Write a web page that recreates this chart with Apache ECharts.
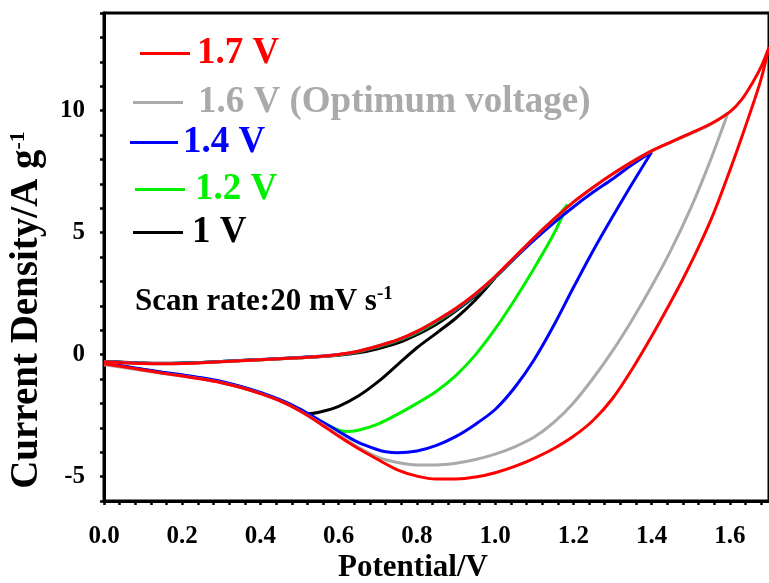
<!DOCTYPE html>
<html>
<head>
<meta charset="utf-8">
<script src="https://cdn.jsdelivr.net/npm/echarts@6/dist/echarts.min.js"></script>
<style>html,body{margin:0;padding:0;background:#fff;}#c{width:769px;height:583px;}</style>
</head>
<body>
<div id="c"></div>
<script>
// ---- data (Potential / V, Current density / A g^-1) ----
const seriesNames = ['1.7 V', '1.6 V (Optimum voltage)', '1.4 V', '1.2 V', '1 V'];
const seriesColors = ['#ff0000', '#aaaaaa', '#0000ff', '#00f000', '#000000'];

const xTickValues = [0, 0.2, 0.4, 0.6, 0.8, 1.0, 1.2, 1.4, 1.6];
const xTickLabels = ['0.0', '0.2', '0.4', '0.6', '0.8', '1.0', '1.2', '1.4', '1.6'];
const yTickValues = [-5, 0, 5, 10];
const yTickLabels = ['-5', '0', '5', '10'];

// 1 V
const v10 = [0,0.05,0.1,0.15,0.2,0.25,0.3,0.35,0.4,0.45,0.5,0.55,0.6,0.65,0.7,0.75,0.8,0.85,0.9,0.95,1.0,
             0.95,0.9,0.85,0.8,0.75,0.7,0.65,0.6,0.55,0.52,0.5,0.45,0.4,0.35,0.3,0.25,0.2,0.15,0.1,0.05,0];
const i10 = [-0.28,-0.31,-0.34,-0.35,-0.34,-0.32,-0.28,-0.24,-0.21,-0.17,-0.13,-0.09,-0.03,0.07,0.24,0.47,0.82,1.25,1.8,2.42,3.15,
             2.25,1.5,0.88,0.28,-0.42,-1.12,-1.7,-2.12,-2.36,-2.42,-2.27,-1.88,-1.58,-1.33,-1.13,-0.98,-0.86,-0.74,-0.62,-0.49,-0.36];

// 1.2 V
const v12 = [0,0.05,0.1,0.15,0.2,0.25,0.3,0.35,0.4,0.45,0.5,0.55,0.6,0.65,0.7,0.75,0.8,0.85,0.9,0.95,1.0,1.05,1.1,1.15,1.185,
             1.15,1.1,1.05,1.0,0.95,0.9,0.85,0.8,0.75,0.7,0.65,0.62,0.6,0.55,0.5,0.45,0.4,0.35,0.3,0.25,0.2,0.15,0.1,0.05,0];
const i12 = [-0.29,-0.32,-0.35,-0.36,-0.35,-0.32,-0.28,-0.24,-0.21,-0.17,-0.13,-0.08,-0.01,0.12,0.32,0.57,0.9,1.35,1.85,2.45,3.15,3.95,4.75,5.5,6.15,
             4.95,3.55,2.25,1.05,0.0,-0.85,-1.5,-2.0,-2.45,-2.85,-3.1,-3.15,-3.1,-2.7,-2.25,-1.87,-1.57,-1.32,-1.12,-0.97,-0.85,-0.73,-0.61,-0.48,-0.35];

// 1.4 V
const v14 = [0,0.05,0.1,0.15,0.2,0.25,0.3,0.35,0.4,0.45,0.5,0.55,0.6,0.65,0.7,0.75,0.8,0.85,0.9,0.95,1.0,1.05,1.1,1.15,1.2,1.25,1.3,1.35,1.4,
             1.35,1.3,1.25,1.2,1.15,1.1,1.05,1.0,0.95,0.9,0.85,0.8,0.75,0.72,0.7,0.65,0.6,0.55,0.5,0.45,0.4,0.35,0.3,0.25,0.2,0.15,0.1,0.05,0];
const i14 = [-0.29,-0.32,-0.35,-0.36,-0.35,-0.32,-0.28,-0.24,-0.2,-0.16,-0.12,-0.07,0.0,0.13,0.34,0.59,0.93,1.38,1.87,2.47,3.17,3.95,4.7,5.4,6.05,6.65,7.2,7.78,8.3,
             7.0,5.65,4.25,2.75,1.2,-0.2,-1.35,-2.25,-2.85,-3.35,-3.72,-3.95,-4.02,-3.98,-3.9,-3.6,-3.15,-2.68,-2.22,-1.85,-1.55,-1.3,-1.1,-0.95,-0.83,-0.72,-0.6,-0.47,-0.35];

// 1.6 V
const v16 = [0,0.05,0.1,0.15,0.2,0.25,0.3,0.35,0.4,0.45,0.5,0.55,0.6,0.65,0.7,0.75,0.8,0.85,0.9,0.95,1.0,1.05,1.1,1.15,1.2,1.25,1.3,1.35,1.4,1.45,1.5,1.55,1.595,
             1.55,1.5,1.45,1.4,1.35,1.3,1.25,1.2,1.15,1.1,1.05,1.0,0.95,0.9,0.85,0.8,0.75,0.7,0.65,0.6,0.55,0.5,0.45,0.4,0.35,0.3,0.25,0.2,0.15,0.1,0.05,0];
const i16 = [-0.3,-0.33,-0.36,-0.37,-0.36,-0.33,-0.29,-0.25,-0.21,-0.17,-0.13,-0.08,0.0,0.14,0.35,0.6,0.95,1.4,1.9,2.5,3.2,4.0,4.8,5.55,6.25,6.85,7.4,7.9,8.35,8.7,9.05,9.42,9.9,
             7.95,6.0,4.3,2.8,1.42,0.15,-0.98,-1.98,-2.78,-3.38,-3.78,-4.08,-4.3,-4.45,-4.52,-4.52,-4.42,-4.2,-3.8,-3.3,-2.78,-2.3,-1.9,-1.6,-1.35,-1.15,-1.0,-0.88,-0.77,-0.65,-0.53,-0.42];

// 1.7 V
const v17 = [0,0.05,0.1,0.15,0.2,0.25,0.3,0.35,0.4,0.45,0.5,0.55,0.6,0.65,0.7,0.75,0.8,0.85,0.9,0.95,1.0,1.05,1.1,1.15,1.2,1.25,1.3,1.35,1.4,1.45,1.5,1.55,1.6,1.63,1.66,1.68,1.7,
             1.68,1.66,1.63,1.6,1.56,1.52,1.48,1.44,1.4,1.35,1.3,1.25,1.2,1.15,1.1,1.05,1.0,0.95,0.9,0.85,0.8,0.75,0.7,0.65,0.6,0.55,0.5,0.45,0.4,0.35,0.3,0.25,0.2,0.15,0.1,0.05,0];
const i17 = [-0.3,-0.33,-0.36,-0.37,-0.36,-0.33,-0.29,-0.25,-0.21,-0.17,-0.13,-0.08,0.0,0.14,0.35,0.6,0.95,1.4,1.9,2.5,3.2,4.0,4.8,5.55,6.25,6.85,7.4,7.9,8.35,8.72,9.08,9.45,9.95,10.45,11.2,11.8,12.6,
             11.3,10.3,8.9,7.55,5.85,4.4,3.1,1.9,0.75,-0.6,-1.8,-2.7,-3.35,-3.85,-4.25,-4.58,-4.84,-5.02,-5.1,-5.1,-4.98,-4.72,-4.3,-3.85,-3.35,-2.8,-2.3,-1.9,-1.6,-1.35,-1.15,-1.0,-0.88,-0.76,-0.63,-0.5,-0.38];

const dataV = [v17, v16, v14, v12, v10];
const dataI = [i17, i16, i14, i12, i10];

// ---- chart ----
const FONT = '"Liberation Serif", "Times New Roman", serif';
const chart = echarts.init(document.getElementById('c'), null, {renderer: 'canvas'});

// draw order: black first, red last (on top)
const drawOrder = [4, 3, 2, 1, 0];
const series = drawOrder.map(k => ({
  name: seriesNames[k],
  type: 'line',
  data: dataV[k].map((x, j) => [x, dataI[k][j]]),
  showSymbol: false,
  symbol: 'none',
  smooth: 0.3,
  lineStyle: {color: seriesColors[k], width: 3},
  itemStyle: {color: seriesColors[k]},
  z: 2 + (4 - k),
  animation: false
}));

// individual legends to reproduce the hand-placed legend entries
const legendPos = [
  {left: 140, cy: 53, w: 50, pad: 2},
  {left: 133, cy: 102, w: 50, pad: 10},
  {left: 130, cy: 142, w: 48, pad: 0},
  {left: 135, cy: 189, w: 50, pad: 5},
  {left: 133, cy: 232, w: 50, pad: 4}
];
const legends = legendPos.map((p, k) => ({
  data: [{name: seriesNames[k], icon: 'rect'}],
  left: p.left,
  top: p.cy - 18,
  orient: 'vertical',
  itemWidth: p.w,
  itemHeight: 3,
  padding: 0,
  selectedMode: false,
  textStyle: {
    color: seriesColors[k], fontFamily: FONT, fontWeight: 'bold', fontSize: 37,
    lineHeight: 36, padding: [0, 0, 0, p.pad]
  }
}));

chart.setOption({
  animation: false,
  backgroundColor: '#ffffff',
  grid: {left: 104, right: -2, top: 13, bottom: 82, show: true, borderColor: '#000', borderWidth: 3, backgroundColor: 'transparent'},
  legend: legends,
  xAxis: {
    type: 'value', min: 0, max: 1.7, interval: 0.04,
    axisLine: {show: true, onZero: false, lineStyle: {color: '#000', width: 3}},
    axisTick: {show: true, inside: false, length: 4, lineStyle: {color: '#000', width: 2.5}},
    splitLine: {show: false},
    axisLabel: {
      margin: 23, color: '#000', fontFamily: FONT, fontWeight: 'bold', fontSize: 25,
      showMaxLabel: false,
      formatter: v => {
        const k = xTickValues.findIndex(t => Math.abs(t - v) < 1e-6);
        return k >= 0 ? xTickLabels[k] : '';
      }
    }
  },
  yAxis: {
    type: 'value', min: -6, max: 14, interval: 1,
    axisLine: {show: true, onZero: false, lineStyle: {color: '#000', width: 3}},
    axisTick: {show: true, inside: false, length: 4, lineStyle: {color: '#000', width: 2.5}},
    splitLine: {show: false},
    axisLabel: {
      margin: 19, color: '#000', fontFamily: FONT, fontWeight: 'bold', fontSize: 25,
      formatter: v => {
        const k = yTickValues.findIndex(t => Math.abs(t - v) < 1e-6);
        return k >= 0 ? yTickLabels[k] : '';
      }
    }
  },
  graphic: [
    {
      type: 'text', x: 413, y: 568, z: 10,
      style: {text: 'Potential/V', fill: '#000', font: 'bold 31px ' + FONT, textAlign: 'center', textVerticalAlign: 'middle'}
    },
    {
      type: 'text', x: 27, y: 310, rotation: Math.PI / 2, z: 10,
      style: {
        text: 'Current Density/A g{sup|-1}', fill: '#000', font: 'bold 39px ' + FONT,
        textAlign: 'center', textVerticalAlign: 'middle',
        rich: {sup: {font: 'bold 22px ' + FONT, fill: '#000', verticalAlign: 'top', lineHeight: 39}}
      }
    },
    {
      type: 'text', left: 135, top: 285, z: 10,
      style: {
        text: 'Scan rate:20 mV s{sup|-1}', fill: '#000', font: 'bold 31px ' + FONT,
        rich: {sup: {font: 'bold 19px ' + FONT, fill: '#000', verticalAlign: 'top', lineHeight: 33}}
      }
    }
  ],
  series: series
});
</script>
</body>
</html>
